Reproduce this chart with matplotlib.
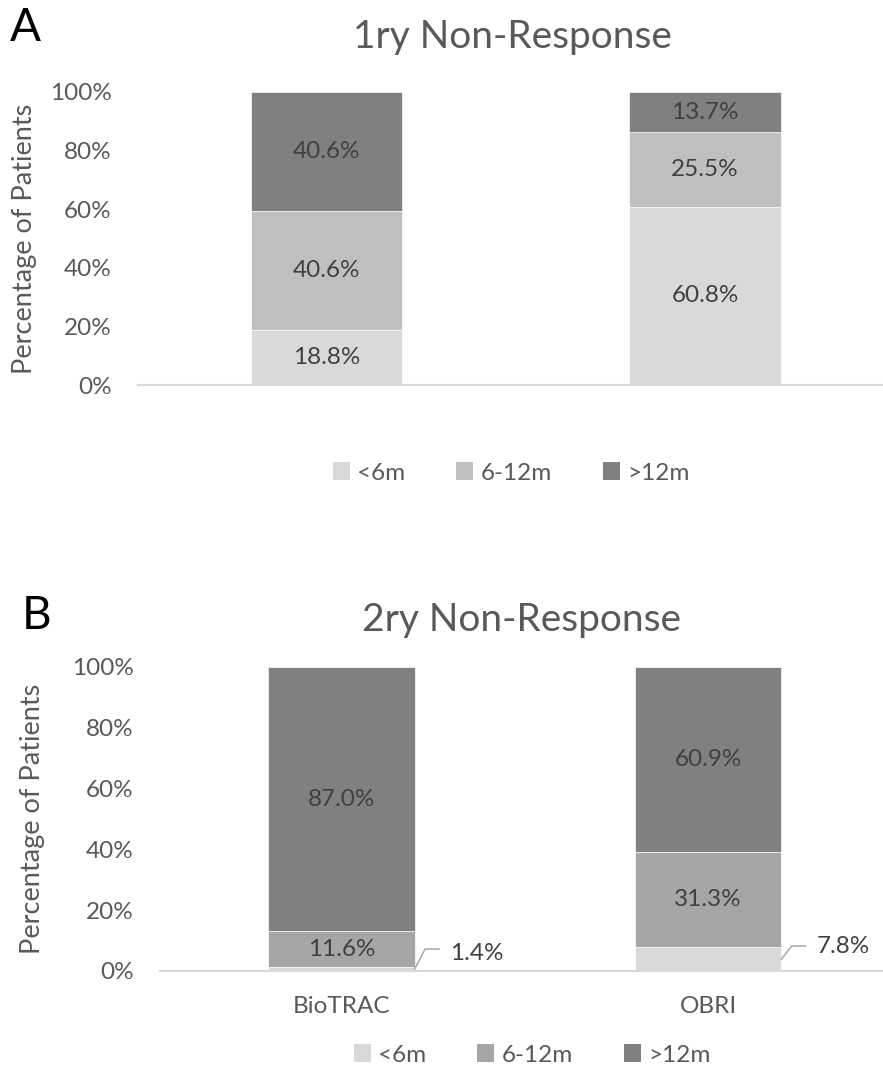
import matplotlib
matplotlib.use("Agg")
import matplotlib.pyplot as plt
from matplotlib.patches import Patch

plt.rcParams['font.family'] = ['Lato', 'DejaVu Sans']

# Panel A: primary non-response
groups_a = ["", ""]
a_lt6 = [18.8, 60.8]
a_6to12 = [40.6, 25.5]
a_gt12 = [40.6, 13.7]

# Panel B: secondary non-response
groups_b = ["BioTRAC", "OBRI"]
b_lt6 = [1.4, 7.8]
b_6to12 = [11.6, 31.3]
b_gt12 = [87.0, 60.9]

series_names = ["<6m", "6-12m", ">12m"]
yticks = [0, 20, 40, 60, 80, 100]

GREY_TXT = "#595959"
LABEL_TXT = "#404040"
AXIS_LINE = "#d9d9d9"
FS = 17.5

fig = plt.figure(figsize=(8.83, 10.71), dpi=100)


def stacked_panel(ax, groups, series, colors, inside_min, ylabel_x):
    x = list(range(len(groups)))
    width = 0.40
    bottom = [0.0] * len(groups)
    for vals, col in zip(series, colors):
        ax.bar(x, vals, width=width, bottom=bottom, color=col,
               edgecolor="white", linewidth=0.5, zorder=2)
        for xi, v, b in zip(x, vals, bottom):
            if v >= inside_min:
                ax.text(xi, b + v / 2, f"{v:.1f}%", ha="center", va="center",
                        fontsize=FS, color=LABEL_TXT, zorder=3)
        bottom = [b + v for b, v in zip(bottom, vals)]
    ax.set_ylim(0, 100)
    ax.set_yticks(yticks)
    ax.set_yticklabels([f"{t}%" for t in yticks])
    ax.tick_params(axis="y", length=0, pad=19, labelsize=FS, labelcolor=GREY_TXT)
    ax.tick_params(axis="x", length=0, pad=18, labelsize=FS, labelcolor=GREY_TXT)
    ax.set_xticks(x)
    ax.set_xticklabels(groups)
    for side in ("top", "right", "left"):
        ax.spines[side].set_visible(False)
    ax.spines["bottom"].set_color(AXIS_LINE)
    ax.spines["bottom"].set_linewidth(1.5)
    ax.set_ylabel("Percentage of Patients", fontsize=19.5, color=GREY_TXT,
                  va="center")
    ax.yaxis.set_label_coords(ylabel_x, 0.5)
    return x, width


# ---- Panel A ----
ax_a = fig.add_axes([0.1563, 0.6405, 0.8437, 0.2736])
cols_a = ["#d9d9d9", "#bfbfbf", "#808080"]
stacked_panel(ax_a, groups_a, [a_lt6, a_6to12, a_gt12], cols_a,
              inside_min=5.0, ylabel_x=-0.153)
ax_a.set_xlim(-0.498, 1.47)
ax_a.set_xticks([])

fig.text(512 / 883, 1 - 37 / 1071, "1ry Non-Response", ha="center", va="center",
         fontsize=28, color=GREY_TXT)
fig.text(10 / 883, 1 - 28 / 1071, "A", ha="left", va="center", fontsize=33, color="black")

fig.legend(handles=[Patch(facecolor=c, label=n) for c, n in zip(cols_a, series_names)],
           loc="center", bbox_to_anchor=(511 / 883, 1 - 473 / 1071), ncol=3,
           frameon=False, fontsize=FS, labelcolor=GREY_TXT,
           handlelength=0.7, handleheight=0.7, handletextpad=0.3, columnspacing=2.1)

# ---- Panel B ----
ax_b = fig.add_axes([0.1812, 0.0934, 0.8188, 0.2841])
cols_b = ["#d9d9d9", "#a6a6a6", "#808080"]
xb, wb = stacked_panel(ax_b, groups_b, [b_lt6, b_6to12, b_gt12], cols_b,
                       inside_min=10.0, ylabel_x=-0.177)
ax_b.set_xlim(-0.495, 1.477)

# small bottom segments are labelled beside the bar with a leader line
leader_label_y = [5.9, 7.9]
leader_top_y = [7.2, 8.2]
for xi, v, ly, ty in zip(xb, b_lt6, leader_label_y, leader_top_y):
    x_edge = xi + wb / 2
    ax_b.plot([x_edge, x_edge + 0.028, x_edge + 0.066],
              [v / 2, ty, ty], color="#a6a6a6", lw=1.1, zorder=3,
              solid_joinstyle="miter", clip_on=False)
    ax_b.text(x_edge + 0.095, ly, f"{v:.1f}%", ha="left", va="center",
              fontsize=FS, color=LABEL_TXT)

fig.text(522 / 883, 1 - 620 / 1071, "2ry Non-Response", ha="center", va="center",
         fontsize=28, color=GREY_TXT)
fig.text(22 / 883, 1 - 616 / 1071, "B", ha="left", va="center", fontsize=33, color="black")

fig.legend(handles=[Patch(facecolor=c, label=n) for c, n in zip(cols_b, series_names)],
           loc="center", bbox_to_anchor=(532 / 883, 1 - 1055 / 1071), ncol=3,
           frameon=False, fontsize=FS, labelcolor=GREY_TXT,
           handlelength=0.7, handleheight=0.7, handletextpad=0.3, columnspacing=2.1)

fig.savefig("out.png", dpi=100, facecolor="white")
